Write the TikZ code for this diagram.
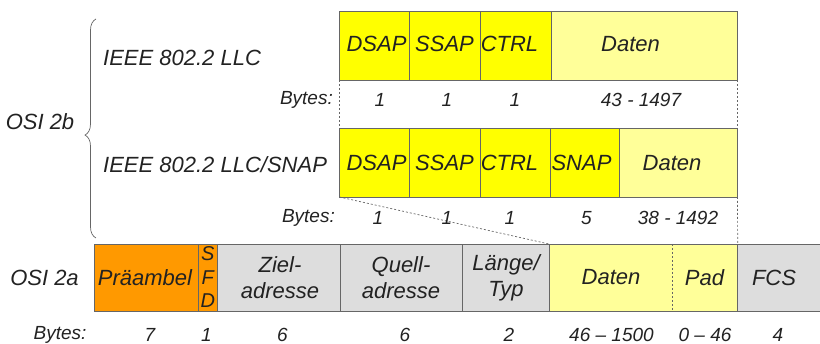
\documentclass[tikz,border=0pt]{standalone}
\usepackage{fontspec}
\setmainfont{Liberation Sans}
\usetikzlibrary{decorations.pathreplacing}
\definecolor{fyellow}{HTML}{FFFF00}
\definecolor{fpale}{HTML}{FFFF99}
\definecolor{forange}{HTML}{FF9900}
\definecolor{fgray}{HTML}{DDDDDD}
\definecolor{fborder}{HTML}{666666}
\definecolor{ftext}{HTML}{222222}
\begin{document}
\begin{tikzpicture}[x=1pt,y=-1pt,
  field/.style={draw=fborder, line width=0.8pt, inner sep=0pt, outer sep=0pt, anchor=north west},
  hdr/.style={field, fill=fyellow},
  pale/.style={field, fill=fpale},
  pre/.style={field, fill=forange},
  gfield/.style={field, fill=fgray},
  big/.style={font=\fontsize{22}{24}\selectfont\itshape, text=ftext, inner sep=0pt},
  twoline/.style={big, align=center, font=\fontsize{22}{26}\selectfont\itshape},
  small/.style={font=\fontsize{19}{21}\selectfont\itshape, text=ftext, inner sep=0pt},
  guide/.style={draw=fborder, line width=0.7pt, dash pattern=on 2pt off 2pt}]
\useasboundingbox (0,0) rectangle (820,344);

% --- IEEE 802.2 LLC header
\node[hdr, minimum width=70, minimum height=68.5] (dsapA) at (339.5,11.5) {};
\node[hdr, minimum width=70.5, minimum height=68.5] (ssapA) at (409.5,11.5) {};
\node[hdr, minimum width=71, minimum height=68.5] (ctrlA) at (480,11.5) {};
\node[pale, minimum width=186.5, minimum height=68.5] (datA) at (551,11.5) {};
\node[big] at (376.5,44) {DSAP};
\node[big] at (444.5,44) {SSAP};
\node[big] at (509.5,44) {CTRL};
\node[big] at (630.5,44) {Daten};

% --- IEEE 802.2 LLC/SNAP header
\node[hdr, minimum width=70, minimum height=68.5] (dsapB) at (339.5,128.5) {};
\node[hdr, minimum width=70.5, minimum height=68.5] (ssapB) at (409.5,128.5) {};
\node[hdr, minimum width=70.5, minimum height=68.5] (ctrlB) at (480,128.5) {};
\node[hdr, minimum width=69, minimum height=68.5] (snapB) at (550.5,128.5) {};
\node[pale, minimum width=118, minimum height=68.5] (datB) at (619.5,128.5) {};
\node[big] at (376.5,163) {DSAP};
\node[big] at (444.5,163) {SSAP};
\node[big] at (509.5,163) {CTRL};
\node[big] at (581.5,163) {SNAP};
\node[big] at (672,163) {Daten};

% --- Ethernet frame
\node[pre, minimum width=104, minimum height=67] (pream) at (94.3,244) {};
\node[pre, minimum width=19, minimum height=67] (sfd) at (198.3,244) {};
\node[gfield, minimum width=122.7, minimum height=67] (dst) at (217.3,244) {};
\node[gfield, minimum width=122.7, minimum height=67] (src) at (340,244) {};
\node[gfield, minimum width=86.3, minimum height=67] (len) at (462.7,244) {};
\node[inner sep=0pt, outer sep=0pt, anchor=north west, fill=fpale, minimum width=123.3, minimum height=67] (datE) at (549,244) {};
\node[inner sep=0pt, outer sep=0pt, anchor=north west, fill=fpale, minimum width=65.4, minimum height=67] (pad) at (672.3,244) {};
\draw[draw=fborder, line width=0.8pt] (datE.north west) rectangle (pad.south east);
\draw[guide] (datE.north east) -- (datE.south east);
\node[gfield, minimum width=86, minimum height=67] (fcs) at (737.7,244) {};

\node[big] at (145,277.5) {Präambel};
\node[big, align=center, font=\fontsize{20}{23.5}\selectfont\itshape] at (207.8,277.5) {S\\F\\D};
\node[twoline] at (280,277.5) {Ziel-\\adresse};
\node[twoline] at (401,277.5) {Quell-\\adresse};
\node[twoline] at (506,277.5) {Länge/\\Typ};
\node[big] at (611,277.5) {Daten};
\node[big] at (704.5,277.5) {Pad};
\node[big] at (774,277.5) {FCS};

% --- dashed guides between the layers
\draw[guide] (dsapA.south west) -- (dsapB.north west);
\draw[guide] (datA.south east) -- (datB.north east);
\draw[guide] (dsapB.south west) -- (datE.north west);
\draw[guide] (datB.south east) -- (pad.north east);

% --- layer labels
\node[big, anchor=west] at (103,58) {IEEE 802.2 LLC};
\node[big, anchor=west] at (103,164.5) {IEEE 802.2 LLC/SNAP};
\node[big] (osib) at (40,122) {OSI 2b};
\node[big] (osia) at (44.5,278) {OSI 2a};
\coordinate (brtop) at (96,19);
\coordinate (brbot) at (96,238);
\draw[draw=fborder, line width=0.7pt, decorate, decoration={brace, amplitude=11pt, aspect=0.47}] (brbot) -- (brtop);

% --- byte counts
\node[small, anchor=east] at (333,99.5) {Bytes:};
\node[small] at (380,99.5) {1};
\node[small] at (447,99.5) {1};
\node[small] at (515,99.5) {1};
\node[small] at (641,99.5) {43 - 1497};

\node[small, anchor=east] at (335,218) {Bytes:};
\node[small] at (378,218) {1};
\node[small] at (447,218) {1};
\node[small] at (510,218) {1};
\node[small] at (586.5,218) {5};
\node[small] at (678,218) {38 - 1492};

\node[small] at (60,334.5) {Bytes:};
\node[small] at (150,334.5) {7};
\node[small] at (206.5,334.5) {1};
\node[small] at (282.5,334.5) {6};
\node[small] at (405,334.5) {6};
\node[small] at (509,334.5) {2};
\node[small] at (611.5,334.5) {46 – 1500};
\node[small] at (705,334.5) {0 – 46};
\node[small] at (778,334.5) {4};
\end{tikzpicture}
\end{document}
